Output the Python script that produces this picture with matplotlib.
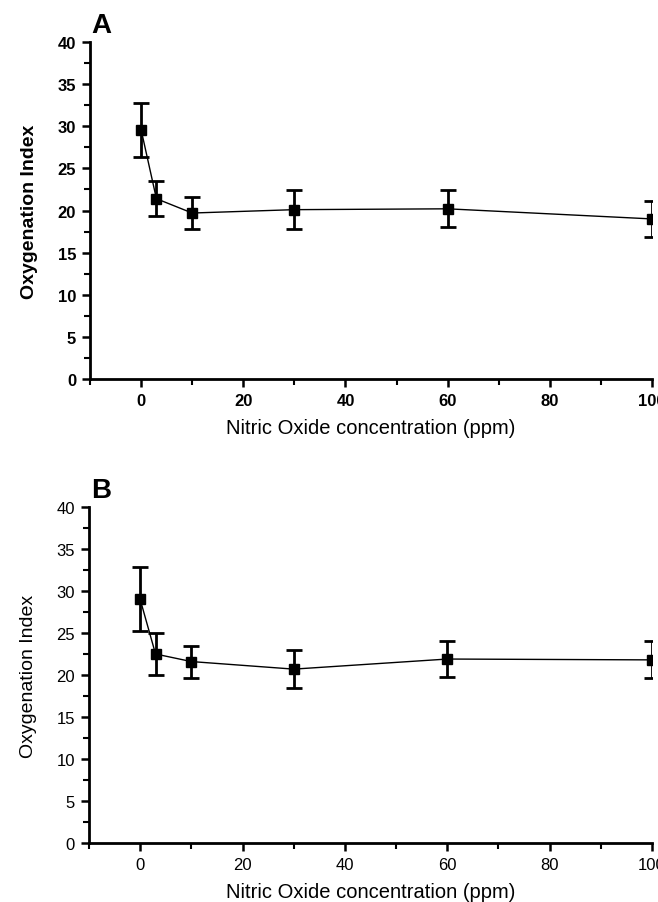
import matplotlib.pyplot as plt
from matplotlib.ticker import MultipleLocator

plt.rcParams['font.family'] = ['Liberation Sans', 'DejaVu Sans']

no_ppm = [0, 3, 10, 30, 60, 100]

oi_a = [29.6, 21.4, 19.7, 20.1, 20.2, 19.0]
err_a = [3.2, 2.1, 1.9, 2.3, 2.2, 2.1]

oi_b = [29.0, 22.5, 21.6, 20.7, 21.9, 21.8]
err_b = [3.8, 2.5, 1.9, 2.3, 2.1, 2.2]

W, H = 658, 903
fig = plt.figure(figsize=(W / 100, H / 100), dpi=100)


def make_panel(rect, y, err, letter, bold):
    ax = fig.add_axes([rect[0] / W, 1 - rect[3] / H,
                       (rect[2] - rect[0]) / W, (rect[3] - rect[1]) / H])
    ax.plot(no_ppm, y, color='black', lw=1.0, zorder=2)
    ax.errorbar(no_ppm, y, yerr=err, fmt='s', color='black', ms=6.5,
                elinewidth=2, capsize=5.5, capthick=2, zorder=3)
    ax.set_xlim(-10, 100)
    ax.set_ylim(0, 40)
    ax.xaxis.set_major_locator(MultipleLocator(20))
    ax.xaxis.set_minor_locator(MultipleLocator(10))
    ax.yaxis.set_major_locator(MultipleLocator(5))
    ax.yaxis.set_minor_locator(MultipleLocator(2.5))
    for s in ['top', 'right']:
        ax.spines[s].set_visible(False)
    for s in ['left', 'bottom']:
        ax.spines[s].set_linewidth(2)
    ax.tick_params(which='major', direction='out', length=6, width=1.8,
                   labelsize=12, pad=4)
    ax.tick_params(which='minor', direction='out', length=4, width=1.5)
    w = 'bold' if bold else 'normal'
    for lab in ax.get_xticklabels() + ax.get_yticklabels():
        lab.set_fontweight(w)
    ax.set_xlabel('Nitric Oxide concentration (ppm)', fontsize=14.5, labelpad=7)
    ax.set_ylabel('Oxygenation Index', fontsize=14, fontweight=w, labelpad=14)
    ax.text(0.003, 1.012, letter, transform=ax.transAxes, fontsize=20,
            fontweight='bold', ha='left', va='bottom')
    return ax


make_panel((90, 43, 652, 380), oi_a, err_a, 'A', True)
make_panel((89, 508, 652, 844), oi_b, err_b, 'B', False)

fig.savefig('out.png', dpi=100)
